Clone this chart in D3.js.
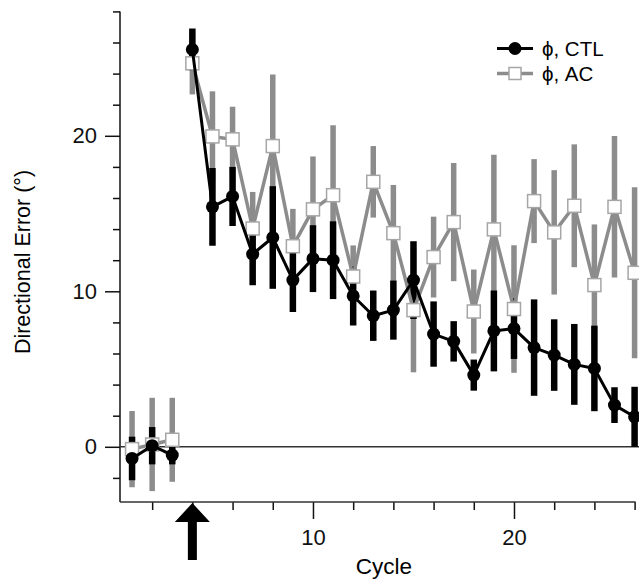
<!DOCTYPE html>
<html>
<head>
<meta charset="utf-8">
<script src="https://cdn.jsdelivr.net/npm/d3@7"></script>
<style>
	body { margin: 0; background: #ffffff; }
	svg { display: block; font-family: "Liberation Sans", Arial, Helvetica, sans-serif; }
</style>
</head>
<body>
<div id="chart"></div>
<script>
// # **Directional error per cycle**

// ### data
// mean and error bar half-length for each cycle
var cycles = [1, 2, 3, 4, 5, 6, 7, 8, 9, 10, 11, 12, 13, 14, 15, 16, 17, 18, 19, 20, 21, 22, 23, 24, 25, 26];
var ctl_mean = [-0.75, 0.07, -0.53, 25.55, 15.43, 16.1, 12.39, 13.46, 10.72, 12.1, 12.0, 9.7, 8.43, 8.79, 10.72, 7.25, 6.78, 4.61, 7.45, 7.6, 6.38, 5.9, 5.3, 5.04, 2.68, 1.93];
var ctl_err = [1.4, 1.2, 0.6, 1.35, 2.5, 1.9, 2.0, 3.3, 2.05, 2.15, 2.5, 1.9, 1.62, 1.9, 2.5, 2.1, 1.3, 1.0, 2.6, 1.95, 3.1, 2.3, 2.6, 2.75, 1.15, 1.93];
var ac_mean = [-0.15, 0.15, 0.45, 24.66, 19.96, 19.77, 14.04, 19.34, 12.9, 15.27, 16.18, 10.95, 17.04, 13.74, 8.79, 12.2, 14.45, 8.7, 13.98, 8.86, 15.8, 13.79, 15.5, 10.4, 15.43, 11.19];
var ac_err = [2.45, 3.0, 2.7, 2.0, 2.9, 2.1, 2.35, 4.6, 2.4, 3.4, 4.5, 2.0, 2.3, 3.1, 4.0, 2.6, 3.8, 2.7, 4.8, 4.1, 2.7, 4.0, 3.95, 3.9, 4.55, 5.5];

// baseline cycles are drawn as their own segment, the arrow marks the start of adaptation
var baseline_cycles = [1, 2, 3];
var arrow_cycle = 4;

// tick labels
var x_major_ticks = [10, 20];
var x_minor_ticks = [2, 4, 6, 8, 12, 14, 16, 18, 22, 24, 26];
var y_major_ticks = [0, 10, 20];
var y_minor_ticks = [-2, 2, 4, 6, 8, 12, 14, 16, 18, 22, 24, 26, 28];
var series_labels = ["\u03d5, CTL", "\u03d5, AC"];
var x_title = "Cycle";
var y_title = "Directional Error (\u00b0)";

// ### setup
var width = 639, height = 582;
var black = "#000000", gray = "#8c8c8c", square_stroke = "#a6a6a6";

var vis = d3.select("#chart").append("svg")
	.attr("width", width)
	.attr("height", height);

var x = d3.scaleLinear().domain([0.4, 26.05]).range([120, 635.6]);
var y = d3.scaleLinear().domain([-3.55, 28]).range([502, 11.4]);

// build per-point records for both series
function make_points(mean, err){
	return cycles.map(function(c, i){
		return {cycle: c, mean: mean[i], err: err[i], baseline: baseline_cycles.indexOf(c) > -1};
	});
}
var ctl_points = make_points(ctl_mean, ctl_err);
var ac_points = make_points(ac_mean, ac_err);

// ### axes
var y_minor = d3.axisLeft(y).tickValues(y_minor_ticks).tickSize(7).tickFormat("");
var y_major = d3.axisLeft(y).tickValues(y_major_ticks).tickSize(15).tickPadding(8).tickFormat(d3.format("d"));
var x_minor = d3.axisBottom(x).tickValues(x_minor_ticks).tickSize(8).tickFormat("");
var x_major = d3.axisBottom(x).tickValues(x_major_ticks).tickSize(17).tickPadding(10).tickFormat(d3.format("d"));

var axis_layer = vis.append("g").attr("class", "axis_layer");
[[y_minor, "translate(120,0)"], [y_major, "translate(120,0)"], [x_minor, "translate(0,502)"], [x_major, "translate(0,502)"]].forEach(function(a){
	var g = axis_layer.append("g").attr("transform", a[1]).call(a[0]);
	g.select(".domain").remove();
	g.selectAll("line").attr("stroke", "#111").attr("stroke-width", 1.5);
	g.selectAll("text").attr("fill", "#111").attr("font-size", 22).attr("font-family", null);
});

// axis spines
axis_layer.append("line")
	.attr("x1", 120).attr("x2", 120)
	.attr("y1", y(28)).attr("y2", y.range()[0])
	.attr("stroke", "#111").attr("stroke-width", 1.5);
axis_layer.append("line")
	.attr("x1", 120).attr("x2", x.range()[1])
	.attr("y1", 502).attr("y2", 502)
	.attr("stroke", "#333").attr("stroke-width", 1.5);

// zero line
axis_layer.append("line")
	.attr("x1", 120).attr("x2", width)
	.attr("y1", y(0)).attr("y2", y(0))
	.attr("stroke", "#333").attr("stroke-width", 1.5);

// axis titles
vis.append("text")
	.attr("x", 384).attr("y", 574)
	.attr("text-anchor", "middle")
	.attr("font-size", 22.5)
	.text(x_title);

vis.append("text")
	.attr("transform", "translate(30,262) rotate(-90)")
	.attr("text-anchor", "middle")
	.attr("font-size", 21.5)
	.text(y_title);

// ### start-of-adaptation arrow
var ax = x(arrow_cycle);
var arrow = d3.path();
arrow.moveTo(ax, 503);
arrow.lineTo(ax + 17.5, 522);
arrow.lineTo(ax + 4.5, 522);
arrow.lineTo(ax + 4.5, 560);
arrow.lineTo(ax - 4.5, 560);
arrow.lineTo(ax - 4.5, 522);
arrow.lineTo(ax - 17.5, 522);
arrow.closePath();
vis.append("path").attr("d", arrow.toString()).attr("fill", black);

// ### data layers
var line = d3.line().x(function(d){ return x(d.cycle); }).y(function(d){ return y(d.mean); });

function draw_bars(layer, points, color, w){
	layer.selectAll(".bar").data(points).enter().append("line")
		.attr("class", "bar")
		.attr("x1", function(d){ return x(d.cycle); })
		.attr("x2", function(d){ return x(d.cycle); })
		.attr("y1", function(d){ return y(d.mean + d.err); })
		.attr("y2", function(d){ return y(d.mean - d.err); })
		.attr("stroke", color)
		.attr("stroke-width", w);
}

function draw_line(layer, points, color, w){
	[points.filter(function(d){ return d.baseline; }), points.filter(function(d){ return !d.baseline; })].forEach(function(seg){
		layer.append("path")
			.attr("d", line(seg))
			.attr("fill", "none")
			.attr("stroke", color)
			.attr("stroke-width", w)
			.attr("stroke-linejoin", "round");
	});
}

var gray_bars = vis.append("g").attr("class", "ac_bars");
var black_bars = vis.append("g").attr("class", "ctl_bars");
var gray_layer = vis.append("g").attr("class", "ac_layer");
var black_layer = vis.append("g").attr("class", "ctl_layer");

draw_bars(gray_bars, ac_points, gray, 5.5);
draw_bars(black_bars, ctl_points, black, 6.5);

draw_line(gray_layer, ac_points, gray, 3.5);
gray_layer.selectAll(".sq").data(ac_points).enter().append("rect")
	.attr("class", "sq")
	.attr("x", function(d){ return x(d.cycle) - 6.5; })
	.attr("y", function(d){ return y(d.mean) - 6.5; })
	.attr("width", 13).attr("height", 13)
	.attr("fill", "#ffffff")
	.attr("stroke", square_stroke)
	.attr("stroke-width", 1.5);

draw_line(black_layer, ctl_points, black, 3);
black_layer.selectAll(".dot").data(ctl_points).enter().append("circle")
	.attr("class", "dot")
	.attr("cx", function(d){ return x(d.cycle); })
	.attr("cy", function(d){ return y(d.mean); })
	.attr("r", 6.5)
	.attr("fill", black);

// ### legend
var legend = vis.append("g").attr("class", "legend");
var legend_rows = [
	{label: series_labels[0], color: black, y: 48.5, marker: "circle"},
	{label: series_labels[1], color: gray, y: 73.5, marker: "square"}
];
legend_rows.forEach(function(r){
	legend.append("line")
		.attr("x1", 497).attr("x2", 533)
		.attr("y1", r.y).attr("y2", r.y)
		.attr("stroke", r.color)
		.attr("stroke-width", r.marker === "circle" ? 3 : 3.5);
	if (r.marker === "circle"){
		legend.append("circle").attr("cx", 515).attr("cy", r.y).attr("r", 6.5).attr("fill", black);
	} else {
		legend.append("rect")
			.attr("x", 509).attr("y", r.y - 6).attr("width", 12).attr("height", 12)
			.attr("fill", "#ffffff").attr("stroke", square_stroke).attr("stroke-width", 1.5);
	}
	legend.append("text")
		.attr("x", 542).attr("y", r.y + 7)
		.attr("font-size", 20.5)
		.text(r.label);
});
</script>
</body>
</html>
